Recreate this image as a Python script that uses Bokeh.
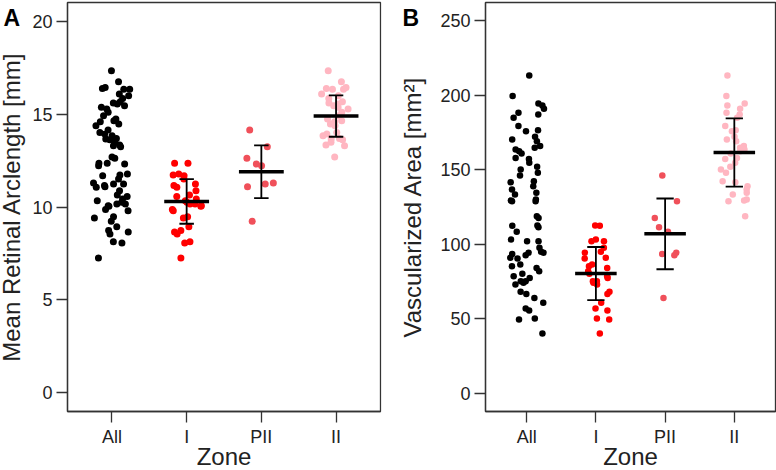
from bokeh.plotting import figure
from bokeh.models import FactorRange, Range1d, FixedTicker, Label, ColumnDataSource
from bokeh.transform import jitter, dodge
from bokeh.layouts import row
from bokeh.embed import file_html
from bokeh.resources import INLINE

zones = ["All", "I", "PII", "II"]
summary_zones = ["I", "PII", "II"]
colors = {"All": "#000000", "I": "#ff0000", "PII": "#f0505a", "II": "#ffb6c1"}

# Panel A: Mean Retinal Arclength [mm]
arc_I = [12.35, 12.35, 11.77, 11.72, 11.68, 11.5, 11.24, 11.15, 11.06, 10.88, 10.65, 10.57,
         10.43, 10.25, 10.34, 10.16, 10.16, 10.04, 10.07, 9.86, 9.8, 9.48, 9.41, 8.94, 8.73,
         8.55, 8.65, 8.13, 8.06, 7.26]
arc_PII = [14.14, 13.24, 12.62, 12.31, 12.22, 11.29, 11.24, 11.09, 9.23]
arc_II = [17.33, 16.74, 16.38, 16.34, 16.34, 16.08, 15.98, 15.84, 15.59, 15.54, 15.45, 15.36,
          15.27, 15.09, 14.91, 14.73, 14.64, 14.59, 14.46, 14.37, 14.01, 13.92, 13.83, 13.69,
          13.66, 13.62, 13.48, 13.33, 13.3, 12.69, 16.43, 15.66]
arc_mean = [10.3, 11.9, 14.89]
arc_sd = [1.2, 1.42, 1.11]
arc_ticks = [0, 5, 10, 15, 20]

# Panel B: Vascularized Area [mm^2]
area_I = [112.6, 112.4, 103.2, 102.1, 102.1, 97.7, 95.0, 94.3, 91.0, 90.5, 86.5, 85.3, 84.2,
          82.0, 80.2, 78.6, 77.5, 75.3, 75.3, 74.2, 73.1, 68.2, 66.8, 60.8, 57.0, 55.6, 50.3,
          49.6, 40.2]
area_PII = [146.1, 128.9, 117.7, 111.5, 108.4, 94.3, 93.5, 92.7, 64.1]
area_II = [213.1, 199.3, 194.4, 193.0, 190.8, 188.1, 187.0, 184.8, 179.2, 176.5, 175.8, 172.0,
           170.2, 169.1, 165.8, 164.7, 163.5, 162.4, 160.9, 157.9, 157.2, 154.6, 152.0, 150.1,
           147.9, 142.3, 141.6, 138.9, 136.7, 134.5, 133.4, 130.0, 129.4, 128.9, 118.8]
area_mean = [80.4, 107.0, 161.5]
area_sd = [17.8, 23.7, 22.9]
area_ticks = [0, 50, 100, 150, 200, 250]

FONT = "Liberation Sans"
INK = "#222222"


def make_panel(letter, groups, means, sds, yr, ticks, ylabel, left, fwidth, right,
               cap, letter_dx, dot, ylabel_standoff):
    p = figure(x_range=FactorRange(factors=zones, range_padding=0.095,
                                   range_padding_units="absolute"),
               y_range=Range1d(*yr), frame_width=fwidth, frame_height=409,
               min_border_left=left, min_border_right=right, min_border_top=3,
               min_border_bottom=55, output_backend="svg", toolbar_location=None,
               background_fill_color="white", border_fill_color="white")
    p.grid.visible = False
    p.outline_line_color = "#333333"
    p.outline_line_width = 1.3

    # points: "All" is the union of the zones
    all_vals = groups["I"] + groups["PII"] + groups["II"]
    src_all = ColumnDataSource(dict(zone=["All"] * len(all_vals), val=all_vals))
    p.scatter(x=jitter("zone", width=0.5, range=p.x_range), y="val", source=src_all,
              size=dot, fill_color=colors["All"], line_color=None)
    for z in summary_zones:
        src = ColumnDataSource(dict(zone=[z] * len(groups[z]), val=groups[z]))
        p.scatter(x=jitter("zone", width=0.4, range=p.x_range), y="val", source=src,
                  size=dot, fill_color=colors[z], line_color=None)

    lo = [m - s for m, s in zip(means, sds)]
    hi = [m + s for m, s in zip(means, sds)]
    ssrc = ColumnDataSource(dict(zone=summary_zones, mean=means, lo=lo, hi=hi))
    p.segment(x0="zone", y0="lo", x1="zone", y1="hi", source=ssrc,
              line_color="black", line_width=1.8)
    for key in ("lo", "hi"):
        p.segment(x0=dodge("zone", -cap, range=p.x_range), y0=key,
                  x1=dodge("zone", cap, range=p.x_range), y1=key, source=ssrc,
                  line_color="black", line_width=1.8)
    p.segment(x0=dodge("zone", -0.3, range=p.x_range), y0="mean",
              x1=dodge("zone", 0.3, range=p.x_range), y1="mean", source=ssrc,
              line_color="black", line_width=3.5)

    for ax in (p.xaxis[0], p.yaxis[0]):
        ax.axis_line_color = "#333333"
        ax.axis_line_width = 1.3
        ax.major_tick_line_color = "#333333"
        ax.major_tick_line_width = 1.3
        ax.major_tick_out = 11
        ax.major_tick_in = 0
        ax.minor_tick_line_color = None
        ax.major_label_text_font = FONT
        ax.major_label_text_font_size = "18px"
        ax.major_label_text_color = INK
        ax.axis_label_text_font = FONT
        ax.axis_label_text_font_size = "24px"
        ax.axis_label_text_font_style = "normal"
        ax.axis_label_text_color = INK
    p.yaxis.ticker = FixedTicker(ticks=ticks)
    p.yaxis.major_label_standoff = 4
    p.yaxis.axis_label = ylabel
    p.yaxis.axis_label_standoff = ylabel_standoff
    p.xaxis.major_label_standoff = 4
    p.xaxis.axis_label = "Zone"
    p.xaxis.axis_label_standoff = -7

    # panel letter, placed in the panel above the frame so it is not clipped
    p.add_layout(Label(x=letter_dx, y=-15, x_units="screen", y_units="screen", text=letter,
                       text_font=FONT, text_font_style="bold", text_font_size="23px",
                       text_color="black", text_baseline="alphabetic"), "above")
    return p


pA = make_panel("A", {"I": arc_I, "PII": arc_PII, "II": arc_II}, arc_mean, arc_sd,
                (-1.0, 21.0), arc_ticks, "Mean Retinal Arclength [mm]", 71, 313, 9,
                0.097, -64, 7, 4)
pB = make_panel("B", {"I": area_I, "PII": area_PII, "II": area_II}, area_mean, area_sd,
                (-12.0, 262.0), area_ticks, "Vascularized Area [mm\u00b2]", 104, 290, 2,
                0.125, -83, 6.5, 11)
pA.margin = (-24, 0, 0, -5)
pB.margin = (-24, 0, 0, -8)

layout = row(pA, pB)
open("out.html", "w").write(file_html(layout, INLINE))
